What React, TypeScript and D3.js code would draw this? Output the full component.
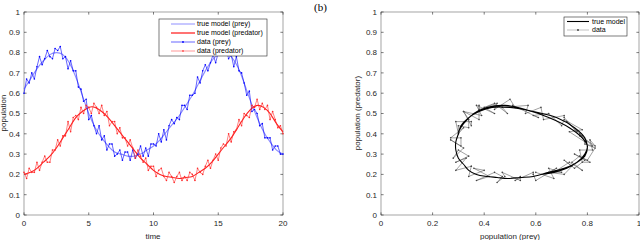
import React, { useEffect, useRef } from "react";
import * as d3 from "d3";

// time grid of the true model (step 0.5) and of the data (step 0.2)
const modelTime = d3.range(0, 20.01, 0.5);
const dataTime = d3.range(0, 20.01, 0.2);

const modelPrey = [
  0.62, 0.67, 0.72, 0.76, 0.79, 0.8, 0.79, 0.75, 0.68, 0.59, 0.5, 0.43, 0.38, 0.34,
  0.31, 0.3, 0.29, 0.29, 0.3, 0.32, 0.34, 0.37, 0.41, 0.45, 0.49, 0.54, 0.59, 0.65,
  0.71, 0.76, 0.79, 0.8, 0.78, 0.73, 0.65, 0.56, 0.48, 0.41, 0.36, 0.32, 0.3,
];
const modelPredator = [
  0.2, 0.21, 0.23, 0.26, 0.29, 0.33, 0.38, 0.43, 0.48, 0.51, 0.53, 0.53, 0.51, 0.48,
  0.44, 0.4, 0.36, 0.32, 0.28, 0.25, 0.22, 0.2, 0.19, 0.185, 0.18, 0.185, 0.19, 0.21,
  0.23, 0.26, 0.3, 0.34, 0.38, 0.43, 0.48, 0.52, 0.54, 0.53, 0.5, 0.45, 0.41,
];
const dataPrey = [
  0.6, 0.67, 0.65, 0.7, 0.67, 0.73, 0.78, 0.74, 0.77, 0.81,
  0.78, 0.77, 0.82, 0.81, 0.83, 0.77, 0.78, 0.72, 0.76, 0.71,
  0.71, 0.63, 0.62, 0.56, 0.57, 0.47, 0.49, 0.44, 0.4, 0.44,
  0.37, 0.39, 0.32, 0.35, 0.35, 0.29, 0.3, 0.32, 0.27, 0.31,
  0.31, 0.27, 0.32, 0.28, 0.3, 0.34, 0.29, 0.33, 0.29, 0.35,
  0.35, 0.34, 0.4, 0.36, 0.42, 0.37, 0.44, 0.47, 0.45, 0.48,
  0.47, 0.54, 0.54, 0.52, 0.59, 0.59, 0.6, 0.68, 0.65, 0.71,
  0.74, 0.71, 0.75, 0.79, 0.75, 0.8, 0.83, 0.79, 0.82, 0.77,
  0.79, 0.73, 0.78, 0.71, 0.7, 0.65, 0.59, 0.61, 0.51, 0.52,
  0.5, 0.44, 0.45, 0.38, 0.38, 0.38, 0.32, 0.34, 0.34, 0.3, 0.3,
];
const dataPredator = [
  0.21, 0.18, 0.23, 0.21, 0.21, 0.26, 0.22, 0.26, 0.29, 0.26,
  0.26, 0.32, 0.32, 0.37, 0.34, 0.39, 0.39, 0.46, 0.41, 0.48,
  0.49, 0.47, 0.53, 0.5, 0.54, 0.53, 0.5, 0.55, 0.53, 0.5,
  0.54, 0.49, 0.51, 0.44, 0.46, 0.46, 0.4, 0.43, 0.38, 0.38,
  0.34, 0.37, 0.33, 0.28, 0.32, 0.29, 0.26, 0.28, 0.22, 0.24,
  0.24, 0.19, 0.22, 0.23, 0.19, 0.17, 0.21, 0.19, 0.16, 0.19,
  0.21, 0.17, 0.19, 0.17, 0.21, 0.2, 0.17, 0.23, 0.21, 0.2,
  0.24, 0.27, 0.23, 0.27, 0.3, 0.27, 0.33, 0.35, 0.34, 0.4,
  0.36, 0.41, 0.42, 0.47, 0.44, 0.5, 0.49, 0.48, 0.54, 0.53,
  0.57, 0.52, 0.55, 0.52, 0.54, 0.47, 0.51, 0.47, 0.43, 0.44, 0.4,
];

const timeTicks = [0, 5, 10, 15, 20];
const popTicks = d3.range(0, 1.001, 0.1);
const preyTicks = [0, 0.2, 0.4, 0.6, 0.8, 1];
const leftLegend = ["true model (prey)", "true model (predator)", "data (prey)", "data (predator)"];
const rightLegend = ["true model", "data"];

const FONT = "Liberation Sans, Arial, sans-serif";
const AXIS = "#262626";
const fmt = (v: number) => d3.format("~g")(+v.toFixed(2));

function drawBox(g: any, x: any, y: any, xt: number[], yt: number[]) {
  const [x0, x1] = x.range();
  const [y0, y1] = y.range();
  g.append("rect").attr("x", x0).attr("y", y1).attr("width", x1 - x0).attr("height", y0 - y1)
    .attr("fill", "white").attr("stroke", AXIS).attr("stroke-width", 0.6).attr("stroke-opacity", 0.7);
  const t = 2.6;
  xt.forEach((v) => {
    g.append("line").attr("x1", x(v)).attr("x2", x(v)).attr("y1", y0).attr("y2", y0 - t).attr("stroke", AXIS).attr("stroke-width", 0.6);
    g.append("line").attr("x1", x(v)).attr("x2", x(v)).attr("y1", y1).attr("y2", y1 + t).attr("stroke", AXIS).attr("stroke-width", 0.6);
    g.append("text").attr("x", x(v)).attr("y", y0 + 11).attr("text-anchor", "middle")
      .attr("font-size", 8).attr("font-family", FONT).attr("fill", AXIS).text(fmt(v));
  });
  yt.forEach((v) => {
    g.append("line").attr("x1", x0).attr("x2", x0 + t).attr("y1", y(v)).attr("y2", y(v)).attr("stroke", AXIS).attr("stroke-width", 0.6);
    g.append("line").attr("x1", x1).attr("x2", x1 - t).attr("y1", y(v)).attr("y2", y(v)).attr("stroke", AXIS).attr("stroke-width", 0.6);
    g.append("text").attr("x", x0 - 4).attr("y", y(v)).attr("dy", "0.35em").attr("text-anchor", "end")
      .attr("font-size", 8).attr("font-family", FONT).attr("fill", AXIS).text(fmt(v));
  });
}

function series(g: any, pts: [number, number][], color: string, width: number, dots: boolean, curve: any) {
  const line = d3.line<[number, number]>().curve(curve);
  g.append("path").attr("d", line(pts)).attr("fill", "none").attr("stroke", color).attr("stroke-width", width);
  if (dots) {
    g.selectAll(null).data(pts).enter().append("circle")
      .attr("cx", (d: any) => d[0]).attr("cy", (d: any) => d[1]).attr("r", 0.8).attr("fill", color);
  }
}

export default function App() {
  const ref = useRef<SVGSVGElement>(null);

  useEffect(() => {
    const svg = d3.select(ref.current);
    svg.selectAll("*").remove();

    // ---- left panel: time series
    const xl = d3.scaleLinear().domain([0, 20]).range([24, 283]);
    const yl = d3.scaleLinear().domain([0, 1]).range([215, 12]);
    const gl = svg.append("g");
    drawBox(gl, xl, yl, timeTicks, popTicks);

    series(gl, modelTime.map((t, i) => [xl(t), yl(modelPrey[i])] as [number, number]), "#8c8cff", 1.1, false, d3.curveNatural);
    series(gl, modelTime.map((t, i) => [xl(t), yl(modelPredator[i])] as [number, number]), "#ff2020", 1.1, false, d3.curveNatural);
    series(gl, dataTime.map((t, i) => [xl(t), yl(dataPrey[i])] as [number, number]), "#0000ff", 0.6, true, d3.curveLinear);
    series(gl, dataTime.map((t, i) => [xl(t), yl(dataPredator[i])] as [number, number]), "#ff2a2a", 0.6, true, d3.curveLinear);

    gl.append("text").attr("x", 153).attr("y", 239).attr("text-anchor", "middle")
      .attr("font-size", 8).attr("font-family", FONT).attr("fill", AXIS).text("time");
    gl.append("text").attr("transform", "translate(6,113) rotate(-90)").attr("text-anchor", "middle")
      .attr("font-size", 8).attr("font-family", FONT).attr("fill", AXIS).text("population");

    // left legend
    const lg = gl.append("g");
    lg.append("rect").attr("x", 159).attr("y", 19).attr("width", 108).attr("height", 37)
      .attr("fill", "white").attr("stroke", AXIS).attr("stroke-width", 0.6);
    const lcol = ["#9a9aff", "#ff0000", "#0000ff", "#ff5050"];
    leftLegend.forEach((lab, i) => {
      const cy = 24 + i * 9;
      lg.append("line").attr("x1", 171).attr("x2", 195).attr("y1", cy).attr("y2", cy)
        .attr("stroke", lcol[i]).attr("stroke-width", i < 2 ? 1.1 : 0.6);
      if (i >= 2) lg.append("circle").attr("cx", 183).attr("cy", cy).attr("r", 0.9).attr("fill", lcol[i]);
      lg.append("text").attr("x", 197).attr("y", cy).attr("dy", "0.35em")
        .attr("font-size", 7).attr("font-family", FONT).attr("fill", "#000").text(lab);
    });

    // ---- right panel: phase plot
    const xr = d3.scaleLinear().domain([0, 1]).range([381, 639]);
    const yr = d3.scaleLinear().domain([0, 1]).range([215, 12]);
    const gr = svg.append("g");
    drawBox(gr, xr, yr, preyTicks, popTicks);

    series(gr, dataPrey.map((p, i) => [xr(p), yr(dataPredator[i])] as [number, number]), "#444", 0.5, true, d3.curveLinear);
    series(gr, modelPrey.map((p, i) => [xr(p), yr(modelPredator[i])] as [number, number]), "#000", 1.1, false, d3.curveCatmullRom);

    gr.append("text").attr("x", 510).attr("y", 239).attr("text-anchor", "middle")
      .attr("font-size", 8).attr("font-family", FONT).attr("fill", AXIS).text("population (prey)");
    gr.append("text").attr("transform", "translate(360,113) rotate(-90)").attr("text-anchor", "middle")
      .attr("font-size", 8).attr("font-family", FONT).attr("fill", AXIS).text("population (predator)");

    const rg = gr.append("g");
    rg.append("rect").attr("x", 564).attr("y", 17).attr("width", 63).attr("height", 19)
      .attr("fill", "white").attr("stroke", AXIS).attr("stroke-width", 0.6);
    rightLegend.forEach((lab, i) => {
      const cy = 21.5 + i * 8.5;
      rg.append("line").attr("x1", 567).attr("x2", 589).attr("y1", cy).attr("y2", cy)
        .attr("stroke", i === 0 ? "#000" : "#999").attr("stroke-width", i === 0 ? 1.1 : 0.6);
      if (i === 1) rg.append("circle").attr("cx", 578).attr("cy", cy).attr("r", 0.9).attr("fill", "#333");
      rg.append("text").attr("x", 592).attr("y", cy).attr("dy", "0.35em")
        .attr("font-size", 7).attr("font-family", FONT).attr("fill", "#000").text(lab);
    });

    svg.append("text").attr("x", 314).attr("y", 11).attr("font-size", 11)
      .attr("font-family", "Liberation Serif, Times New Roman, serif").attr("fill", "#000").text("(b)");
  }, []);

  return (
    <svg ref={ref} width={640} height={240}
      style={{ position: "absolute", left: 0, top: 0, background: "white" }} />
  );
}
